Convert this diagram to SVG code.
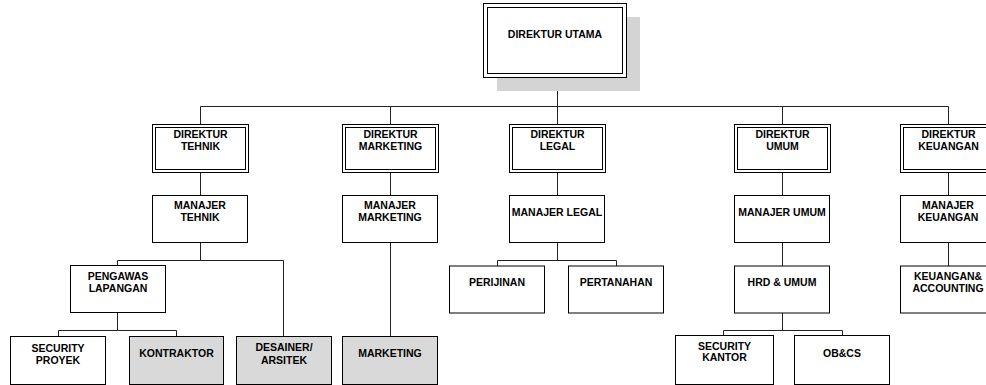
<svg xmlns="http://www.w3.org/2000/svg" width="986" height="385" viewBox="0 0 986 385">
<style>
.b{fill:#fff;stroke:#000;stroke-width:1}
.g{fill:#d9d9d9;stroke:#000;stroke-width:1}
.in{fill:none;stroke:#000;stroke-width:1}
.sh{fill:#d4d4d4;stroke:none}
text{font-family:"Liberation Sans",Arial,sans-serif;font-weight:bold;font-size:10.5px;fill:#000;text-anchor:middle}
.c{fill:none;stroke:#222;stroke-width:1}
</style>
<rect width="986" height="385" fill="#fff"/>
<g id="connectors">
<path class="c" d="M557.5 78V106.5M200.5 106.5H948.5M200.5 106.5V124M390.5 106.5V124M557.5 106.5V124M782.5 106.5V124M948.5 106.5V124"/>
<path class="c" d="M200.5 172V195M390.5 172V195M557.5 172V195M782.5 172V195M948.5 172V195"/>
<path class="c" d="M200.5 242V260.5M117.5 260.5H283.5M117.5 260.5V265.5M283.5 260.5V336.5"/>
<path class="c" d="M117.5 312.5V330.5M58.5 330.5H176.5M58.5 330.5V336.5M176.5 330.5V336.5"/>
<path class="c" d="M390.5 242V336.5"/>
<path class="c" d="M557.5 242V260.5M497.5 260.5H616.5M497.5 260.5V266M616.5 260.5V266"/>
<path class="c" d="M782.5 242V266M782.5 313V330.5M723.5 330.5H842.5M723.5 330.5V335M842.5 330.5V335"/>
<path class="c" d="M948.5 242V266"/>
</g>
<g id="direktur-utama">
<rect class="sh" x="497" y="17" width="143" height="74"/>
<rect class="b" x="483.5" y="3.5" width="143" height="74"/>
<rect class="in" x="487.5" y="7.5" width="135" height="66"/>
<text x="555" y="38">DIREKTUR UTAMA</text>
</g>
<g id="direktur-tehnik">
<rect class="b" x="152.5" y="124.5" width="96" height="48"/>
<rect class="in" x="155.5" y="127.5" width="90" height="42"/>
<text x="200.5" y="137.5">DIREKTUR</text><text x="200.5" y="149.5">TEHNIK</text>
</g>
<g id="direktur-marketing">
<rect class="b" x="342.5" y="124.5" width="96" height="48"/>
<rect class="in" x="345.5" y="127.5" width="90" height="42"/>
<text x="390.5" y="137.5">DIREKTUR</text><text x="390.5" y="149.5">MARKETING</text>
</g>
<g id="direktur-legal">
<rect class="b" x="509.5" y="124.5" width="96" height="48"/>
<rect class="in" x="512.5" y="127.5" width="90" height="42"/>
<text x="557.5" y="137.5">DIREKTUR</text><text x="557.5" y="149.5">LEGAL</text>
</g>
<g id="direktur-umum">
<rect class="b" x="734.5" y="124.5" width="96" height="48"/>
<rect class="in" x="737.5" y="127.5" width="90" height="42"/>
<text x="782.5" y="137.5">DIREKTUR</text><text x="782.5" y="149.5">UMUM</text>
</g>
<g id="direktur-keuangan">
<rect class="b" x="900.5" y="124.5" width="96" height="48"/>
<rect class="in" x="903.5" y="127.5" width="90" height="42"/>
<text x="948.5" y="137.5">DIREKTUR</text><text x="948.5" y="149.5">KEUANGAN</text>
</g>
<g id="manajer-tehnik">
<rect class="b" x="152.5" y="195.5" width="95" height="47"/>
<text x="200" y="208.5">MANAJER</text><text x="200" y="221">TEHNIK</text>
</g>
<g id="manajer-marketing">
<rect class="b" x="342.5" y="195.5" width="95" height="47"/>
<text x="390" y="208.5">MANAJER</text><text x="390" y="221">MARKETING</text>
</g>
<g id="manajer-legal">
<rect class="b" x="509.5" y="195.5" width="95" height="47"/>
<text x="557" y="215.5">MANAJER LEGAL</text>
</g>
<g id="manajer-umum">
<rect class="b" x="734.5" y="195.5" width="95" height="47"/>
<text x="782" y="215.5">MANAJER UMUM</text>
</g>
<g id="manajer-keuangan">
<rect class="b" x="900.5" y="195.5" width="95" height="47"/>
<text x="948" y="208.5">MANAJER</text><text x="948" y="221">KEUANGAN</text>
</g>
<g id="pengawas-lapangan">
<rect class="b" x="70.5" y="265.5" width="95" height="47"/>
<text x="118" y="280">PENGAWAS</text><text x="118" y="292">LAPANGAN</text>
</g>
<g id="perijinan">
<rect class="b" x="449.5" y="266" width="95" height="47"/>
<text x="497" y="285.5">PERIJINAN</text>
</g>
<g id="pertanahan">
<rect class="b" x="568.5" y="266" width="95" height="47"/>
<text x="616" y="285.5">PERTANAHAN</text>
</g>
<g id="hrd-umum">
<rect class="b" x="734.5" y="266" width="95" height="47"/>
<text x="782" y="285.5">HRD &amp; UMUM</text>
</g>
<g id="keuangan-accounting">
<rect class="b" x="900.5" y="266" width="95" height="47"/>
<text x="948" y="280">KEUANGAN&amp;</text><text x="948" y="292">ACCOUNTING</text>
</g>
<g id="security-proyek">
<rect class="b" x="10.5" y="336.5" width="95" height="48"/>
<text x="58" y="352">SECURITY</text><text x="58" y="363.5">PROYEK</text>
</g>
<g id="kontraktor">
<rect class="g" x="129.5" y="336.5" width="94" height="48"/>
<text x="176.5" y="357">KONTRAKTOR</text>
</g>
<g id="desainer-arsitek">
<rect class="g" x="236.5" y="336.5" width="95" height="48"/>
<text x="284" y="351">DESAINER/</text><text x="284" y="363.5">ARSITEK</text>
</g>
<g id="marketing">
<rect class="g" x="342.5" y="336.5" width="95" height="48"/>
<text x="390" y="356.5">MARKETING</text>
</g>
<g id="security-kantor">
<rect class="b" x="675.5" y="335.5" width="98" height="49"/>
<text x="724.5" y="349.5">SECURITY</text><text x="724.5" y="360.5">KANTOR</text>
</g>
<g id="ob-cs">
<rect class="b" x="794.5" y="335.5" width="95" height="49"/>
<text x="842" y="357">OB&amp;CS</text>
</g>
</svg>
